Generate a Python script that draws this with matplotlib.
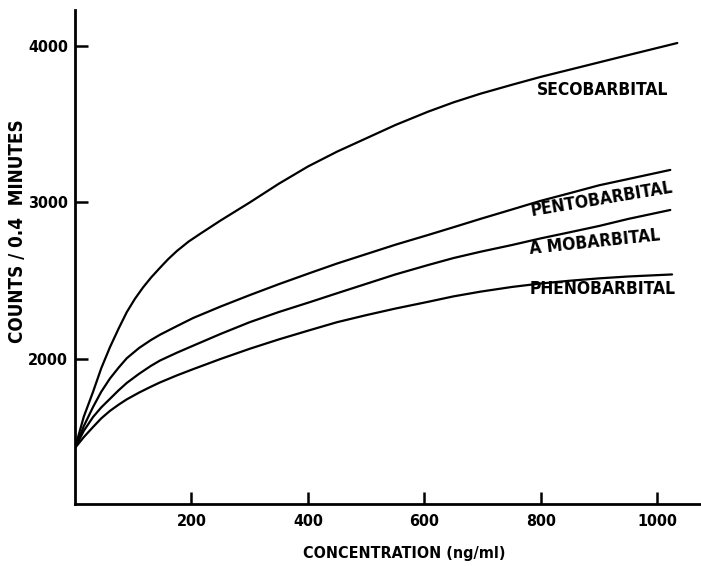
import matplotlib
matplotlib.use("Agg")
import matplotlib.pyplot as plt

# ---- data ----
seco_x = [0, 15, 31, 45, 60, 75, 89, 103, 117, 131, 146, 160, 175, 195, 215, 250, 300, 350, 400,
          450, 500, 550, 606, 650, 696, 750, 800, 867, 950, 1034]
seco_y = [1431, 1630, 1790, 1940, 2075, 2195, 2300, 2385, 2458, 2522, 2583, 2638, 2690, 2750, 2800,
          2885, 3000, 3120, 3230, 3325, 3410, 3495, 3580, 3640, 3695, 3752, 3803, 3865, 3942, 4019]

pento_x = [0, 15, 31, 45, 60, 75, 89, 110, 130, 146, 175, 203, 250, 300, 350, 404, 450, 500, 550,
           606, 650, 696, 750, 799, 850, 900, 950, 1022]
pento_y = [1431, 1570, 1693, 1790, 1875, 1945, 2005, 2070, 2120, 2155, 2210, 2262, 2335, 2408, 2478,
           2550, 2610, 2670, 2730, 2792, 2842, 2895, 2955, 3010, 3060, 3110, 3150, 3208]

amo_x = [0, 15, 31, 45, 60, 75, 89, 110, 130, 146, 175, 203, 250, 300, 350, 404, 450, 500, 550,
         606, 650, 696, 750, 799, 850, 900, 950, 1022]
amo_y = [1431, 1540, 1629, 1690, 1745, 1800, 1847, 1905, 1955, 1990, 2040, 2085, 2160, 2235, 2300,
         2364, 2420, 2480, 2540, 2600, 2645, 2685, 2728, 2770, 2810, 2850, 2895, 2952]

pheno_x = [0, 15, 31, 45, 60, 75, 89, 110, 130, 146, 175, 203, 250, 300, 350, 404, 450, 500, 550,
           606, 650, 696, 750, 799, 850, 900, 950, 1025]
pheno_y = [1431, 1500, 1565, 1620, 1668, 1708, 1742, 1785, 1822, 1850, 1895, 1935, 2000, 2065, 2125,
           2185, 2235, 2280, 2322, 2365, 2400, 2430, 2460, 2482, 2500, 2515, 2527, 2540]

x_ticks = [200, 400, 600, 800, 1000]
y_ticks = [2000, 3000, 4000]

labels = ["SECOBARBITAL", "PENTOBARBITAL", "A MOBARBITAL", "PHENOBARBITAL"]
label_x = [905, 905, 893, 905]
label_y = [3720, 3020, 2745, 2445]
label_rot = [0, 9.5, 6, 0]

# ---- figure ----
fig = plt.figure(figsize=(7.01, 5.66), dpi=100)
ax = fig.add_axes([75 / 701, (566 - 504) / 566, (700 - 75) / 701, (504 - 10) / 566])

lw = 1.6
for xs, ys in [(seco_x, seco_y), (pento_x, pento_y), (amo_x, amo_y), (pheno_x, pheno_y)]:
    ax.plot(xs, ys, color="black", lw=lw, solid_capstyle="round", solid_joinstyle="round")

ax.set_xlim(0, 1073)
ax.set_ylim(1073, 4230)
ax.set_xticks(x_ticks)
ax.set_yticks(y_ticks)
ax.set_xticklabels([str(v) for v in x_ticks])
ax.set_yticklabels([str(v) for v in y_ticks])

for s in ["top", "right"]:
    ax.spines[s].set_visible(False)
for s in ["left", "bottom"]:
    ax.spines[s].set_linewidth(2.0)

font = dict(family="DejaVu Sans", fontweight="bold", fontstretch="condensed")
ax.tick_params(axis="both", direction="in", length=9, width=1.8, labelsize=11.5, pad=5)
ax.tick_params(axis="x", pad=7)
for t in ax.get_xticklabels() + ax.get_yticklabels():
    t.set_fontweight("bold")
    t.set_fontstretch("condensed")

ax.set_xlabel("CONCENTRATION (ng/ml)", fontsize=11.5, **font)
ax.xaxis.set_label_coords(0.526, -0.085)
ax.set_ylabel("COUNTS / 0.4  MINUTES", fontsize=13.5, **font)
ax.yaxis.set_label_coords(-0.076, 0.553)

for txt, lx, ly, rot in zip(labels, label_x, label_y, label_rot):
    ax.text(lx, ly, txt, ha="center", va="center", rotation=rot, fontsize=12.5,
            rotation_mode="anchor", **font)

fig.savefig("out.png", dpi=100)
